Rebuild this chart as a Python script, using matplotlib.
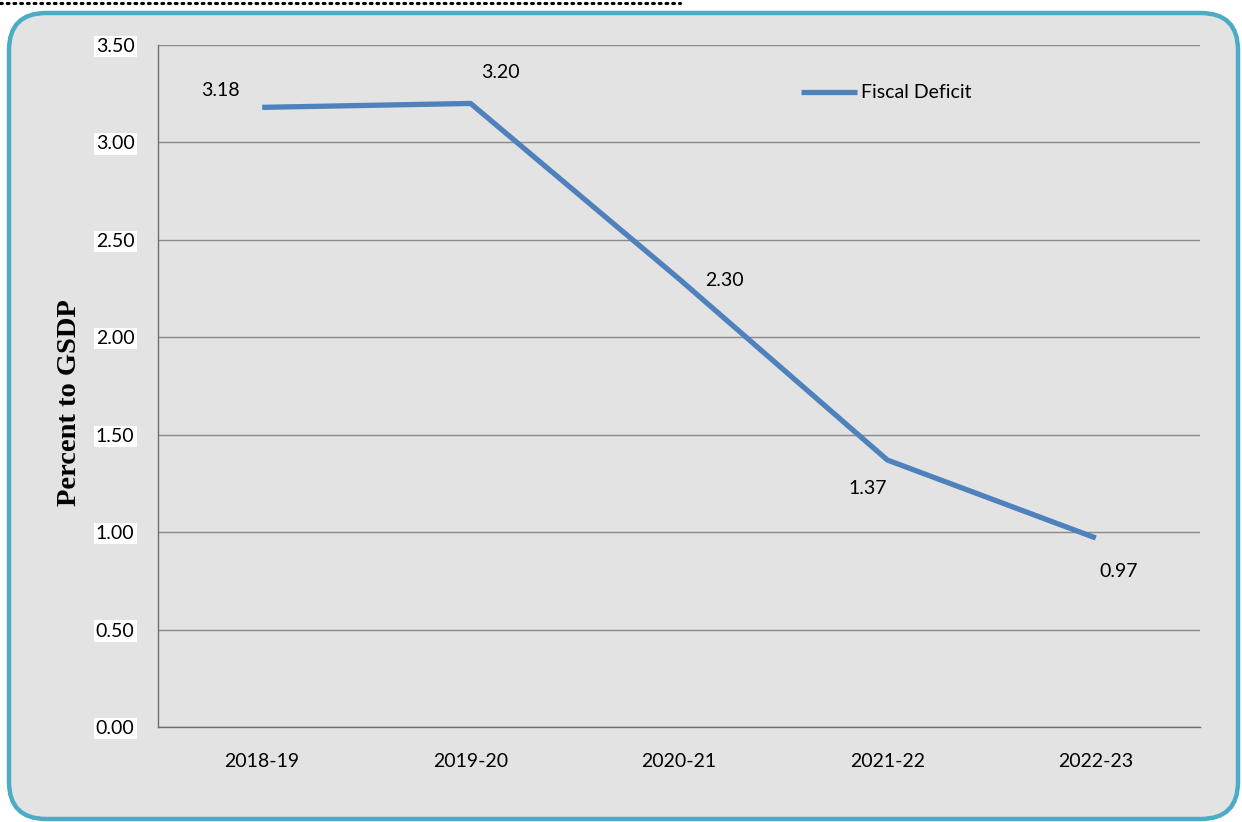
import matplotlib
matplotlib.use("Agg")
import matplotlib.pyplot as plt
from matplotlib.patches import FancyBboxPatch
from matplotlib.lines import Line2D

years = ["2018-19", "2019-20", "2020-21", "2021-22", "2022-23"]
fiscal_deficit = [3.18, 3.20, 2.30, 1.37, 0.97]
yticks = [0.0, 0.5, 1.0, 1.5, 2.0, 2.5, 3.0, 3.5]

FONT = ["Lato", "DejaVu Sans"]
LINE_COLOR = "#4f81bd"
FS = 14

fig = plt.figure(figsize=(12.42, 8.22), dpi=100)
fig.patch.set_facecolor("white")

# rounded frame with grey fill
frame = FancyBboxPatch((9 / 1242, 3 / 822), 1229 / 1242, 806 / 822,
                       boxstyle="round,pad=0,rounding_size=0.03",
                       transform=fig.transFigure, facecolor="#e3e3e3",
                       edgecolor="#4bacc6", linewidth=3.2, zorder=-5,
                       mutation_aspect=1242 / 822)
fig.patches.append(frame)

# dotted line across top
fig.add_artist(Line2D([0.0, 680 / 1242], [1 - 3 / 822, 1 - 3 / 822],
                      transform=fig.transFigure, color="black",
                      linestyle=(0, (0.6, 1.6)), linewidth=2.2,
                      dash_capstyle="round", zorder=-4))

ax = fig.add_axes([158 / 1242, 95 / 822, 1042 / 1242, 682 / 822])
ax.set_zorder(2)
ax.set_facecolor("none")
x = list(range(len(years)))
ax.plot(x, fiscal_deficit, color=LINE_COLOR, linewidth=3.8,
        solid_capstyle="butt", label="Fiscal Deficit", zorder=3)

ax.set_xlim(-0.5, len(years) - 0.5)
ax.set_ylim(0, 3.5)
ax.set_yticks(yticks)
ax.set_yticklabels([f"{v:.2f}" for v in yticks], fontfamily=FONT, fontsize=FS)
ax.set_xticks(x)
ax.set_xticklabels(years, fontfamily=FONT, fontsize=FS)
for lbl in ax.get_yticklabels():
    lbl.set_bbox(dict(facecolor="white", edgecolor="none", pad=1.5))
ax.tick_params(axis="both", length=0)
ax.tick_params(axis="y", pad=17)
ax.tick_params(axis="x", pad=19)

ax.yaxis.grid(True, color="#8a8a8a", linewidth=1.0)
ax.set_axisbelow(True)
for s in ["top", "right"]:
    ax.spines[s].set_visible(False)
ax.spines["left"].set_color("#6e6e6e")
ax.spines["bottom"].set_color("#6e6e6e")
ax.spines["left"].set_linewidth(1.0)
ax.spines["bottom"].set_linewidth(1.0)

ax.set_ylabel("Percent to GSDP", fontfamily=["Liberation Serif", "DejaVu Serif"],
              fontsize=20.5, fontweight="bold", va="center")
ax.yaxis.set_label_coords(-0.0845, 0.475)

# data labels
offsets = [(-42, 17), (30, 31), (45, -2), (-20, -28), (23, -34)]
for xi, yi, (dx, dy) in zip(x, fiscal_deficit, offsets):
    ax.annotate(f"{yi:.2f}", (xi, yi), xytext=(dx, dy), textcoords="offset pixels",
                ha="center", va="center", fontfamily=FONT, fontsize=FS)

leg = ax.legend(loc="upper left", bbox_to_anchor=(0.6, 0.968), frameon=False,
                prop={"family": FONT, "size": FS}, handlelength=2.9,
                handletextpad=0.2)

fig.savefig("out.png", dpi=100)
